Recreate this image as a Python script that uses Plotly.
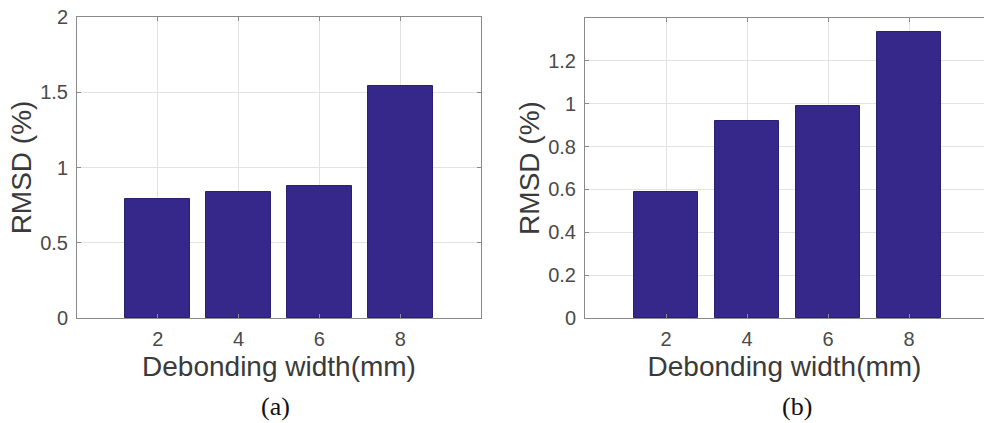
import plotly.graph_objects as go

# Debonding widths (mm) and RMSD (%) for the two test cases
widths = [2, 4, 6, 8]
rmsd_a = [0.79, 0.84, 0.88, 1.54]
rmsd_b = [0.586, 0.92, 0.99, 1.337]

x_title = "Debonding width(mm)"
y_title = "RMSD (%)"
panel_labels = ["(a)", "(b)"]

W, H = 984, 423
BAR_COLOR = "#35288a"
GRID = "#e3e3e3"
FRAME = "#8a8a8a"
TICK_FONT = dict(family="Liberation Sans, Arial", size=20, color="#4a4a4a")
TITLE_FONT = dict(family="Liberation Sans, Arial", size=28, color="#3a3a3a")


def px_x(p):
    return p / W


def px_y(p):
    return 1 - p / H


fig = go.Figure()

fig.add_trace(go.Bar(x=widths, y=rmsd_a, width=1.6, xaxis="x", yaxis="y",
                     marker=dict(color=BAR_COLOR, line=dict(color="#2a2070", width=1)),
                     showlegend=False))
fig.add_trace(go.Bar(x=widths, y=rmsd_b, width=1.6, xaxis="x2", yaxis="y2",
                     marker=dict(color=BAR_COLOR, line=dict(color="#2a2070", width=1)),
                     showlegend=False))

common_x = dict(tickvals=widths, showgrid=True, gridcolor=GRID, gridwidth=1,
                showline=True, linecolor=FRAME, linewidth=1,
                ticks="inside", ticklen=4, tickcolor=FRAME,
                tickfont=TICK_FONT, ticklabelstandoff=3, zeroline=False,
                automargin=False,
                title=dict(text=x_title, font=TITLE_FONT, standoff=7))
common_y = dict(showgrid=True, gridcolor=GRID, gridwidth=1,
                showline=True, linecolor=FRAME, linewidth=1,
                ticks="inside", ticklen=4, tickcolor=FRAME,
                tickfont=TICK_FONT, ticklabelstandoff=4, zeroline=False,
                automargin=False,
                title=dict(text=y_title, font=TITLE_FONT, standoff=0))

fig.update_layout(
    width=W, height=H,
    margin=dict(l=0, r=0, t=0, b=0),
    paper_bgcolor="white", plot_bgcolor="white",
    bargap=0,
    xaxis=dict(domain=[px_x(77), px_x(481)], range=[0, 10], anchor="y",
               mirror="ticks", **common_x),
    yaxis=dict(domain=[px_y(318), px_y(17)], range=[0, 2], dtick=0.5, anchor="x",
               mirror="ticks", **common_y),
    xaxis2=dict(domain=[px_x(585), 1.0], range=[0, 9.85], anchor="y2",
                mirror="ticks", **common_x),
    yaxis2=dict(domain=[px_y(318), px_y(18)], range=[0, 1.4],
                tickvals=[0, 0.2, 0.4, 0.6, 0.8, 1.0, 1.2], anchor="x2",
                mirror=False, **common_y),
)

for label, cx in zip(panel_labels, [275, 797]):
    fig.add_annotation(text=label, x=px_x(cx), y=px_y(406), xref="paper", yref="paper",
                       showarrow=False, xanchor="center", yanchor="middle",
                       font=dict(family="Liberation Serif, Times New Roman", size=26, color="#111"))

fig.write_html("out.html")
